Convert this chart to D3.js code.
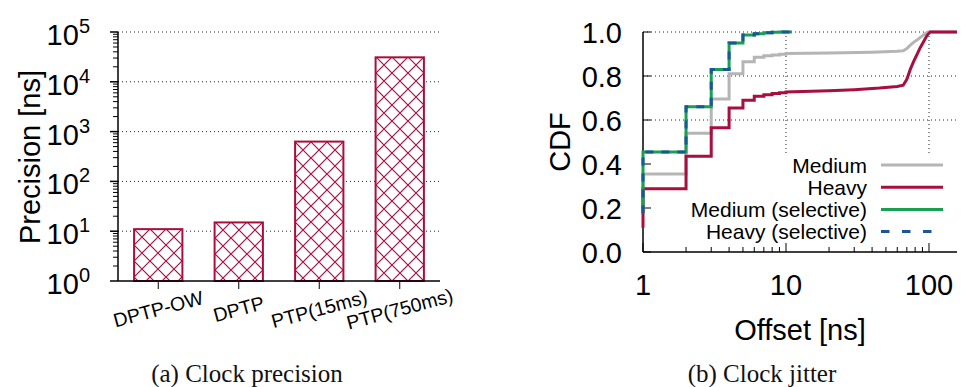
<!DOCTYPE html>
<html>
<head>
<meta charset="utf-8">
<script src="https://cdn.jsdelivr.net/npm/d3@7"></script>
<style>
  body { margin: 0; background: #fff; }
  svg { display: block; }
  .sans { font-family: "Liberation Sans", Arial, Helvetica, sans-serif; fill: #000; }
  .caption { font-family: "Liberation Serif", "Times New Roman", serif; fill: #111; }
</style>
</head>
<body>
<svg id="chart" width="961" height="387"></svg>
<script>
// ---- data: (a) clock precision ----
var categories = ["DPTP-OW", "DPTP", "PTP(15ms)", "PTP(750ms)"];
var precisionNs = [11, 15, 630, 31000];
var precisionTicks = [1, 10, 100, 1000, 10000, 100000];

// ---- data: (b) clock jitter, CDF of offset [ns] ----
// integer offsets where the CDF steps
var stepOffsets = [1, 2, 3, 4, 5, 6, 7, 8, 9, 10];

var mediumStart = 0.2;
var mediumSteps = [0.355, 0.54, 0.695, 0.81, 0.865, 0.885, 0.892, 0.896, 0.899, 0.902];
var mediumTailOffset = [10, 20, 40, 60, 66, 70, 74, 78, 83, 88, 93, 98, 155];
var mediumTailCdf = [0.902, 0.905, 0.908, 0.912, 0.915, 0.925, 0.94, 0.953, 0.965, 0.978, 0.99, 1.0, 1.0];

var heavyStart = 0.11;
var heavySteps = [0.287, 0.435, 0.565, 0.655, 0.69, 0.708, 0.715, 0.72, 0.724, 0.727];
var heavyTailOffset = [10, 20, 30, 45, 60, 66, 70, 74, 78, 82, 87, 92, 97, 102, 157];
var heavyTailCdf = [0.727, 0.733, 0.738, 0.745, 0.752, 0.758, 0.785, 0.83, 0.865, 0.895, 0.93, 0.958, 0.985, 1.0, 1.0];

var mediumSelStart = 0.175;
var mediumSelSteps = [0.455, 0.66, 0.83, 0.95, 0.986, 0.992, 0.997, 0.999, 1.0, 1.0];
var mediumSelTailOffset = [10, 11];
var mediumSelTailCdf = [1.0, 1.0];

var heavySelStart = 0.175;
var heavySelSteps = [0.455, 0.66, 0.83, 0.95, 0.986, 0.992, 0.997, 0.999, 1.0, 1.0];
var heavySelTailOffset = [10, 11];
var heavySelTailCdf = [1.0, 1.0];

var cdfTicks = [0, 0.2, 0.4, 0.6, 0.8, 1.0];
var offsetTicks = [1, 10, 100];

var RED = "#a80f3e";

var svg = d3.select("#chart");

// dotted grid line helper
function dotted(sel) {
    return sel.attr("stroke", "#222")
        .attr("stroke-width", 1)
        .attr("stroke-dasharray", "1,3");
}

// ===================== (a) Clock precision =====================
var xBand = d3.scaleBand()
    .domain(categories)
    .range([118, 440])
    .paddingInner(0.4)
    .paddingOuter(0.2);

var yLog = d3.scaleLog()
    .domain([1, 1e5])
    .range([281, 32]);

var gA = svg.append("g");

// horizontal grid at decades
gA.selectAll("line.grid")
    .data(precisionTicks.slice(1))
    .enter().append("line")
    .attr("x1", 118).attr("x2", 440)
    .attr("y1", d => yLog(d)).attr("y2", d => yLog(d))
    .call(dotted);

// cross hatch pattern, one per bar so it lines up with the bar corner
var defs = svg.append("defs");
categories.forEach(function(c, i) {
    var p = defs.append("pattern")
        .attr("id", "hatch" + i)
        .attr("patternUnits", "userSpaceOnUse")
        .attr("x", Math.round(xBand(c)))
        .attr("y", Math.round(yLog(precisionNs[i])))
        .attr("width", 16)
        .attr("height", 16);
    p.append("rect").attr("width", 16).attr("height", 16).attr("fill", "#fff");
    p.append("path")
        .attr("d", "M0,0L16,16M0,16L16,0")
        .attr("stroke", RED)
        .attr("stroke-width", 1.2);
});

// bars
gA.selectAll("rect.bar")
    .data(precisionNs)
    .enter().append("rect")
    .attr("x", (d, i) => xBand(categories[i]))
    .attr("y", d => yLog(d))
    .attr("width", xBand.bandwidth())
    .attr("height", d => yLog(1) - yLog(d))
    .attr("fill", (d, i) => "url(#hatch" + i + ")")
    .attr("stroke", RED)
    .attr("stroke-width", 2);

// y axis with outward log ticks
var minorA = yLog.ticks().filter(d => precisionTicks.indexOf(d) < 0);
gA.selectAll("line.minor")
    .data(minorA)
    .enter().append("line")
    .attr("x1", 113).attr("x2", 118)
    .attr("y1", d => yLog(d)).attr("y2", d => yLog(d))
    .attr("stroke", "#000").attr("stroke-width", 1);
gA.selectAll("line.major")
    .data(precisionTicks)
    .enter().append("line")
    .attr("x1", 110).attr("x2", 118)
    .attr("y1", d => yLog(d)).attr("y2", d => yLog(d))
    .attr("stroke", "#000").attr("stroke-width", 1.5);
gA.append("line")
    .attr("x1", 118).attr("x2", 118).attr("y1", 32).attr("y2", 281)
    .attr("stroke", "#000").attr("stroke-width", 1.5);
gA.append("line")
    .attr("x1", 118).attr("x2", 440).attr("y1", 281).attr("y2", 281)
    .attr("stroke", "#000").attr("stroke-width", 1.5);

// tick labels 10^k
var lab = gA.selectAll("text.ylab")
    .data(precisionTicks)
    .enter().append("text")
    .attr("class", "sans")
    .attr("x", 90)
    .attr("y", d => yLog(d) + 13)
    .attr("text-anchor", "end")
    .attr("font-size", 29);
lab.append("tspan").text("10");
lab.append("tspan")
    .attr("font-size", 20)
    .attr("dy", -12)
    .text(d => Math.round(Math.log10(d)));

// category ticks + rotated labels
gA.selectAll("line.xt")
    .data(categories)
    .enter().append("line")
    .attr("x1", d => xBand(d) + xBand.bandwidth() / 2)
    .attr("x2", d => xBand(d) + xBand.bandwidth() / 2)
    .attr("y1", 281).attr("y2", 289)
    .attr("stroke", "#000").attr("stroke-width", 1);
gA.selectAll("text.xlab")
    .data(categories)
    .enter().append("text")
    .attr("class", "sans")
    .attr("font-size", 19.5)
    .attr("text-anchor", "middle")
    .attr("dy", "0.35em")
    .attr("transform", d => "translate(" + (xBand(d) + xBand.bandwidth() / 2) + ",309) rotate(-15)")
    .text(d => d);

gA.append("text")
    .attr("class", "sans")
    .attr("font-size", 29)
    .attr("text-anchor", "middle")
    .attr("transform", "translate(40,157) rotate(-90)")
    .text("Precision [ns]");

gA.append("text")
    .attr("class", "caption")
    .attr("x", 247).attr("y", 382)
    .attr("text-anchor", "middle")
    .attr("font-size", 25)
    .text("(a) Clock precision");

// ===================== (b) Clock jitter =====================
var xOff = d3.scaleLog()
    .domain([1, 157])
    .range([643, 957]);

var yCdf = d3.scaleLinear()
    .domain([0, 1])
    .range([252, 32]);

var gB = svg.append("g");

// grid
gB.selectAll("line.hg")
    .data(cdfTicks.slice(1))
    .enter().append("line")
    .attr("x1", 643).attr("x2", 957)
    .attr("y1", d => yCdf(d)).attr("y2", d => yCdf(d))
    .call(dotted);
gB.selectAll("line.vg")
    .data(offsetTicks.slice(1))
    .enter().append("line")
    .attr("x1", d => xOff(d)).attr("x2", d => xOff(d))
    .attr("y1", 32).attr("y2", 252)
    .call(dotted);

// opaque key box hides the grid underneath
gB.append("rect")
    .attr("x", 644).attr("y", yCdf(0.447))
    .attr("width", 314).attr("height", yCdf(0) - yCdf(0.447) - 1)
    .attr("fill", "#fff");

// axes, ticks inward
gB.append("line")
    .attr("x1", 643).attr("x2", 643).attr("y1", 32).attr("y2", 252)
    .attr("stroke", "#000").attr("stroke-width", 1.5);
gB.append("line")
    .attr("x1", 643).attr("x2", 957).attr("y1", 252).attr("y2", 252)
    .attr("stroke", "#000").attr("stroke-width", 1.5);
gB.selectAll("line.yt")
    .data(cdfTicks)
    .enter().append("line")
    .attr("x1", 643).attr("x2", 651)
    .attr("y1", d => yCdf(d)).attr("y2", d => yCdf(d))
    .attr("stroke", "#000").attr("stroke-width", 1);
gB.selectAll("line.xt")
    .data(xOff.ticks())
    .enter().append("line")
    .attr("x1", d => xOff(d)).attr("x2", d => xOff(d))
    .attr("y1", 252)
    .attr("y2", d => offsetTicks.indexOf(d) >= 0 ? 243 : 247)
    .attr("stroke", "#000").attr("stroke-width", 1);

gB.selectAll("text.ylab")
    .data(cdfTicks)
    .enter().append("text")
    .attr("class", "sans")
    .attr("x", 622)
    .attr("y", d => yCdf(d) + 10.5)
    .attr("text-anchor", "end")
    .attr("font-size", 29)
    .text(d => d.toFixed(1));
gB.selectAll("text.xlab")
    .data(offsetTicks)
    .enter().append("text")
    .attr("class", "sans")
    .attr("x", d => xOff(d))
    .attr("y", 295)
    .attr("text-anchor", "middle")
    .attr("font-size", 29)
    .text(d => d);

gB.append("text")
    .attr("class", "sans")
    .attr("font-size", 29)
    .attr("text-anchor", "middle")
    .attr("transform", "translate(570,142) rotate(-90)")
    .text("CDF");
gB.append("text")
    .attr("class", "sans")
    .attr("font-size", 29)
    .attr("text-anchor", "middle")
    .attr("x", 800).attr("y", 340)
    .text("Offset [ns]");

gB.append("text")
    .attr("class", "caption")
    .attr("x", 762).attr("y", 382)
    .attr("text-anchor", "middle")
    .attr("font-size", 25)
    .text("(b) Clock jitter");

// step part (integer offsets) followed by a smooth tail
var stepLine = d3.line().x(d => xOff(d[0])).y(d => yCdf(d[1])).curve(d3.curveStepAfter);
var tailLine = d3.line().x(d => xOff(d[0])).y(d => yCdf(d[1]));

function cdfPath(start, steps, tailX, tailY) {
    var pts = [[1, start]].concat(stepOffsets.map((o, i) => [o, steps[i]]));
    var tail = tailX.map((o, i) => [o, tailY[i]]);
    return stepLine(pts) + tailLine(tail).replace(/^M/, "L");
}

var series = [
    { name: "Medium", color: "#b5b5b5", dash: null,
      d: cdfPath(mediumStart, mediumSteps, mediumTailOffset, mediumTailCdf) },
    { name: "Heavy", color: RED, dash: null,
      d: cdfPath(heavyStart, heavySteps, heavyTailOffset, heavyTailCdf) },
    { name: "Medium (selective)", color: "#15a052", dash: null,
      d: cdfPath(mediumSelStart, mediumSelSteps, mediumSelTailOffset, mediumSelTailCdf) },
    { name: "Heavy (selective)", color: "#1b5795", dash: "8,8",
      d: cdfPath(heavySelStart, heavySelSteps, heavySelTailOffset, heavySelTailCdf) }
];

gB.selectAll("path.cdf")
    .data(series)
    .enter().append("path")
    .attr("d", s => s.d)
    .attr("fill", "none")
    .attr("stroke", s => s.color)
    .attr("stroke-width", 3)
    .attr("stroke-dasharray", s => s.dash);

// legend
var key = gB.selectAll("g.key")
    .data(series)
    .enter().append("g")
    .attr("transform", (s, i) => "translate(0," + (165 + i * 22.2) + ")");
key.append("text")
    .attr("class", "sans")
    .attr("x", 867)
    .attr("dy", "0.36em")
    .attr("text-anchor", "end")
    .attr("font-size", 21)
    .text(s => s.name);
key.append("line")
    .attr("x1", 881).attr("x2", 943)
    .attr("stroke", s => s.color)
    .attr("stroke-width", 3)
    .attr("stroke-dasharray", s => s.dash ? "8.5,12.5" : null);
</script>
</body>
</html>
